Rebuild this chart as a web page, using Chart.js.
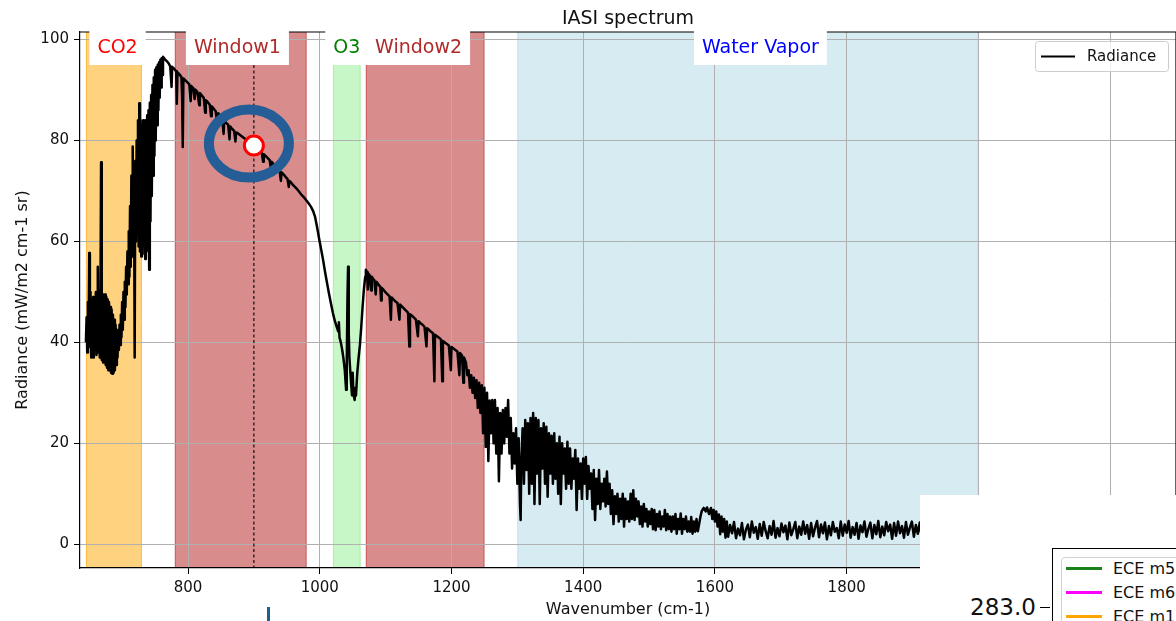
<!DOCTYPE html>
<html>
<head>
<meta charset="utf-8">
<script src="https://cdn.jsdelivr.net/npm/chart.js@4.4.1/dist/chart.umd.min.js"></script>
<style>
  html, body { margin: 0; padding: 0; background: #fff; overflow: hidden; }
  #wrap { position: relative; width: 1176px; height: 621px; font-family: 'DejaVu Sans', sans-serif; }
  #other { position: absolute; left: 920px; top: 495px; width: 256px; height: 126px; background: #fff; overflow: hidden; }
  #other .frame { position: absolute; left: 132px; top: 53px; width: 200px; height: 100px; border-left: 1.2px solid #000; border-top: 1.2px solid #000; }
  #other .inner { position: absolute; left: 141px; top: 62px; width: 150px; height: 100px; border: 1px solid #d0d0d0; border-radius: 4px; }
  #other .swatch { position: absolute; left: 146px; width: 36px; height: 3px; }
  #other .lbl { position: absolute; left: 193px; font-size: 16px; line-height: 18px; color: #111; white-space: nowrap; }
  #other .tick { position: absolute; left: 50px; top: 98px; font-size: 23px; line-height: 28px; color: #111; }
  #other .tickmark { position: absolute; left: 120px; top: 112px; width: 10px; height: 1.3px; background: #000; }
  #blueTick { position: absolute; left: 267px; top: 607px; width: 3px; height: 14px; background: #1f5f8b; }
</style>
</head>
<body>
<div id="wrap">
  <canvas id="iasi" width="1176" height="621"></canvas>
  <div id="other">
    <div class="frame"></div>
    <div class="inner"></div>
    <div class="swatch" style="top:72px;background:#1a801a"></div>
    <div class="lbl" style="top:65px">ECE m5</div>
    <div class="swatch" style="top:96px;background:#ff00ff"></div>
    <div class="lbl" style="top:89px">ECE m6</div>
    <div class="swatch" style="top:120px;background:#ffa500"></div>
    <div class="lbl" style="top:113px">ECE m1</div>
    <div class="tick">283.0</div>
    <div class="tickmark"></div>
  </div>
  <div id="blueTick"></div>
</div>
<script>
// IASI radiance spectrum: [wavenumber cm-1, radiance]
const spectrumCO2 = [
  [645,40],[646,45],[647,38],[648,48],[649,39],[650,57.7],[651,40],[652,50],[653,37],[654,48],
  [655,38.5],[656,49],[657,37],[658,47],[659,39],[660,50],[661,37.5],[662,46],[663,55],[664,38],
  [665,49],[666,37],[667,47],[668,75.7],[669,36.5],[670,49],[671,36],[672,49.5],[673,36],[674,49.5],
  [675,35.5],[676,49],[677,35],[678,48.5],[679,34.5],[680,48],[681,34.5],[682,47],[683,34],[684,46.5],
  [685,33.8],[686,45.5],[687,34],[688,44.5],[689,34.5],[690,43.5],[691,35.5],[692,42.5],[693,37],[694,42],
  [695,38.5],[696,43.5],[697,39.5],[698,45.5],[699,41],[700,48],[701,42.5],[702,50],[703,44.5],[704,52],
  [705,47],[706,55],[707,49.5],[708,58],[709,51.5],[710,62],[711,53],[712,67],[713,55],[714,73],
  [715,57],[716,78.8],[717,58],[718,72],[719,37],[720,76],[721,60],[722,80],[723,62],[724,84],
  [725,59],[726,87.4],[727,58],[728,84],[729,57],[730,83],[731,57.5],[732,84],[733,59],[734,83],
  [735,56.5],[736,84],[737,58],[738,85],[739,59],[740,86],[741,54.4],[742,87.5],[743,64],[744,89],
  [745,69],[746,91],[747,73],[748,92.5],[749,77],[750,94],[751,80],[752,94.5],[753,83],[754,95],
  [755,86],[756,95.5],[757,88.5],[758,96],[759,90.5],[760,96.3],[761,93],[762,96.6]
];
const spectrumWindow1 = [
  [765,96.1],[768,95.7],[771,95.2],[773,94.7],[775,90.6],[776,94.6],[779,94.2],[782,93.7],[783,87.3],[784,93.5],
  [787,93.1],[790,92.6],[791,89],[792,78.7],[793,92.3],[796,91.9],[799,91.5],[802,91.1],[804,87.8],[805,90.8],
  [808,90.4],[810,88.2],[811,90.1],[814,89.7],[817,87],[818,89.4],[821,88.9],[824,88.4],[826,85.5],[827,88],
  [830,87.6],[833,87.1],[835,84.8],[836,86.8],[839,86.3],[842,85.8],[845,82.8],[846,85.4],[849,84.8],[852,84.3],
  [854,81.3],[855,84],[858,83.5],[861,83.1],[863,80.2],[864,82.8],[867,82.3],[870,81.9],[872,79.8],[873,81.6],
  [876,81.4],[879,81.1],[882,80.8],[885,80.5],[888,80.2],[891,79.9],[894,79.5],[897,79.2],[900,79],[903,78.6],
  [906,78.3],[909,77.9],[912,77.6],[914,75.8],[915,77.3],[918,76.9],[921,76.5],[924,76.1],[926,74.3],[927,75.8],
  [930,75.3],[933,74.9],[936,74.5],[939,74.1],[941,72],[942,73.7],[945,73.3],[948,72.8],[951,72.4],[953,70.8],
  [954,72],[957,71.6],[960,71.1],[963,70.7],[966,70.3],[969,69.8],[972,69.3],[975,68.9],[978,68.4],[981,67.9],
  [984,67.4],[987,66.8],[990,66],[993,64.8],[996,62.8],[999,60.6]
];
const spectrumO3 = [
  [1002,58.5],[1005,56.4],[1008,54],[1011,51.8],[1014,49.7],[1017,47.7],[1020,45.8],[1023,44.2],[1026,43],[1028,42.2],
  [1029,44],[1030,41],[1032,40],[1034,38.6],[1036,36.8],[1038,34.5],[1040,30.6],[1041,36],[1042,48],[1043,55],
  [1044,42],[1045,37],[1047,33],[1049,29.5],[1050,34],[1051,30],[1053,28.6],[1054,31],[1055,29.5],[1057,34],
  [1059,37],[1061,39.5],[1063,43],[1065,47],[1067,50.5],[1069,53],[1070,54.4]
];
const spectrumWindow2 = [
  [1072,53.9],[1073,50.5],[1074,53.6],[1076,53.3],[1078,50.3],[1079,53],[1081,52.6],[1083,52.3],[1085,49.5],[1086,52],
  [1088,51.7],[1090,51.3],[1092,51],[1093,48.3],[1094,50.8],[1097,50.4],[1100,49.9],[1103,49.5],[1106,49.1],[1108,44.5],
  [1109,48.9],[1112,48.5],[1115,48.1],[1118,47.8],[1121,44.5],[1122,47.5],[1125,47.1],[1128,46.7],[1131,46.3],[1134,45.9],
  [1136,39.2],[1137,45.6],[1140,45.3],[1143,44.9],[1146,44.5],[1149,41.2],[1150,44.2],[1153,43.8],[1156,43.5],[1159,43.1],
  [1162,39.2],[1163,42.8],[1166,42.5],[1169,42.1],[1172,41.8],[1174,32.3],[1175,41.5],[1178,41.2],[1181,40.9],[1184,40.6],
  [1186,32.3],[1187,40.3],[1190,40],[1193,39.7],[1196,39.4],[1199,34.5],[1200,39.1],[1203,38.8],[1206,38.5],[1209,38.2],
  [1212,33.5],[1213,37.9],[1216,37.4],[1218,32],[1219,37],[1222,36],[1224,33.5]
];
const spectrumWaterVapor = [
  [1226,34.5],[1228,31],[1230,33.5],[1232,30],[1234,33],[1236,29],[1238,32.5],[1240,27],[1242,32],[1244,26],
  [1246,31.5],[1248,22],[1250,31],[1252,19.3],[1254,30],[1256,16.5],[1258,28.5],[1260,22],[1262,28.6],[1264,20],
  [1266,28.6],[1268,18],[1270,27],[1272,12.5],[1274,26],[1276,18],[1278,26.6],[1280,20],[1282,27],[1284,21.3],
  [1286,28.6],[1288,18],[1290,25],[1292,15],[1294,22],[1296,16],[1298,23],[1300,12],[1302,21],[1304,8],
  [1305,4.8],[1306,16],[1308,23],[1310,12],[1312,24.6],[1314,14.7],[1316,24],[1318,10],[1320,25],[1322,12],
  [1324,26],[1326,8],[1328,25],[1330,14],[1332,24.6],[1334,8],[1336,23],[1338,15],[1340,24],[1342,12],
  [1344,23.3],[1346,9.4],[1348,22],[1350,14],[1352,21.5],[1354,12],[1356,22],[1358,13],[1360,20],[1362,10],
  [1364,21.3],[1366,8],[1368,20],[1370,14],[1372,19],[1374,11],[1376,20.3],[1378,12],[1380,19],[1382,11],
  [1384,17],[1386,13],[1388,18.7],[1390,6.8],[1392,17],[1394,11],[1396,16],[1398,9],[1400,17],[1402,12],
  [1404,17.3],[1406,9],[1408,15.5],[1410,11],[1412,14],[1414,7],[1416,14.7],[1418,4.8],[1420,13],[1422,8],
  [1424,14.7],[1426,7],[1428,12],[1430,8.5],[1432,13],[1434,7.5],[1436,14.4],[1438,8],[1440,12],[1442,6],
  [1444,10.7],[1446,4],[1448,9.5],[1450,6],[1452,10],[1454,4.5],[1456,9],[1458,5],[1460,10],[1462,3.5],
  [1464,9],[1466,5],[1468,8.5],[1470,4.5],[1472,10],[1474,5],[1476,10.7],[1478,4.8],[1480,9],[1482,5.5],
  [1484,8.5],[1486,4],[1488,7.5],[1490,3.5],[1492,8],[1494,4.5],[1496,7],[1498,3.5],[1500,6.5],[1502,4],
  [1504,7],[1506,3],[1508,6.8],[1510,2.8],[1512,6],[1514,3.5],[1516,6.5],[1518,3],[1520,5.5],[1522,3.5],
  [1524,6.8],[1526,2.8],[1528,6],[1530,3],[1532,5.5],[1534,2.5],[1536,5.5],[1538,3],[1540,6],[1542,2.1],
  [1544,5],[1546,3],[1548,6.1],[1550,2.1],[1552,5],[1554,3],[1556,5.5],[1558,2.5],[1560,4.5],[1562,2.5],
  [1564,5.4],[1566,2.1],[1568,4.5],[1570,2.5],[1572,5],[1574,2.6],[1576,4],[1578,5.5],[1580,6.6],[1583,7.2],
  [1586,6.5],[1588,7.3],[1591,6],[1594,7.2],[1596,5],[1598,6.8],[1600,4.5],[1602,6.5],[1604,3.5],[1606,5.9],
  [1608,2],[1610,5.5],[1612,2.5],[1614,5],[1616,1.3],[1618,4.5],[1620,1.5],[1623,3.8],[1626,2.2],[1629,4.4],
  [1632,1.2],[1635,3.1],[1638,1.8],[1641,4.2],[1644,1],[1647,2.9],[1650,3.9],[1653,1.4],[1656,4.5],[1659,2.3],
  [1662,3.4],[1665,1.1],[1668,4],[1671,1.7],[1674,4.4],[1677,2.6],[1680,1.2],[1683,3.6],[1686,1.9],[1689,4.6],
  [1692,1.3],[1695,3.2],[1698,1.6],[1701,4.1],[1704,2.4],[1707,3.7],[1710,1],[1713,4.3],[1716,1.8],[1719,3],
  [1722,4.4],[1725,1.2],[1728,3.5],[1731,1.9],[1734,4.5],[1737,2.1],[1740,3.8],[1743,1.1],[1746,4.2],[1749,1.6],
  [1752,3.3],[1755,4.6],[1758,1.4],[1761,3.9],[1764,2.2],[1767,4.3],[1770,1],[1773,3.6],[1776,1.8],[1779,4.4],
  [1782,2.5],[1785,3.2],[1788,1.2],[1791,4.5],[1794,1.7],[1797,3.9],[1800,2.3],[1803,4.6],[1806,1.3],[1809,3.4],
  [1812,1.9],[1815,4.2],[1818,1.1],[1821,3.7],[1824,2.4],[1827,4.5],[1830,1.5],[1833,3.1],[1836,4.3],[1839,1.2],
  [1842,3.8],[1845,2],[1848,4.6],[1851,1.4],[1854,3.5],[1857,1.8],[1860,4.4],[1863,2.6],[1866,3.9],[1869,1.1],
  [1872,4.2],[1875,1.7],[1878,4.5],[1881,2.2],[1884,3.6],[1887,1.3],[1890,4.4],[1893,1.9],[1896,3.3],[1899,4.5],
  [1902,1.5],[1905,3.8],[1908,2.1],[1911,4.3],[1914,1.4],[1917,3.6],[1920,2]
];
const spectrumTail = [
  [1940,1.5],[1960,3.5],[1980,1.5],[2000,3],[2050,1.5],[2100,2.5],[2150,1.2],[2200,2],[2250,1],[2300,1.5]
];

// absorption bands (cm-1)
const bandNames = ['CO2', 'Window1', 'O3', 'Window2', 'Water Vapor'];
const bandStart = [645, 780, 1020, 1070, 1300];
const bandEnd = [730, 980, 1062, 1250, 2000];
const bandLabelAt = [693, 875, 1041, 1150, 1669];

const xTicks = [800, 1000, 1200, 1400, 1600, 1800, 2000, 2200];
const yTicks = [0, 20, 40, 60, 80, 100];
const markerWn = 900;

// styles
const bandFill = ['rgba(255,165,0,0.5)', 'rgba(190,64,64,0.6)', 'rgba(144,238,144,0.5)', 'rgba(190,64,64,0.6)', 'rgba(173,216,230,0.5)'];
const bandText = ['#ff0000', '#b02a2a', '#008000', '#b02a2a', '#0000ff'];
const FONT = "'DejaVu Sans', sans-serif";

const spectrum = [].concat(spectrumCO2, spectrumWindow1, spectrumO3, spectrumWindow2, spectrumWaterVapor, spectrumTail)
  .map(p => ({x: p[0], y: p[1]}));
const markerPoint = spectrum.find(p => p.x === markerWn);

const iasiPlugin = {
  id: 'iasi',
  beforeDraw(chart) {
    const {ctx, chartArea: a, scales: {x}} = chart;
    ctx.save();
    ctx.beginPath();
    ctx.rect(a.left, a.top, a.width, a.height);
    ctx.clip();
    bandNames.forEach((n, i) => {
      const x0 = x.getPixelForValue(bandStart[i]);
      const x1 = x.getPixelForValue(bandEnd[i]);
      ctx.fillStyle = bandFill[i];
      ctx.fillRect(x0, a.top, x1 - x0, a.height);
      ctx.strokeStyle = bandFill[i];
      ctx.lineWidth = 1;
      ctx.beginPath();
      ctx.moveTo(x0 + 0.5, a.top); ctx.lineTo(x0 + 0.5, a.bottom);
      ctx.moveTo(x1 - 0.5, a.top); ctx.lineTo(x1 - 0.5, a.bottom);
      ctx.stroke();
    });
    ctx.restore();
  },
  beforeDatasetsDraw(chart) {
    const {ctx, chartArea: a, scales: {x}} = chart;
    const px = x.getPixelForValue(markerWn);
    ctx.save();
    ctx.strokeStyle = '#000';
    ctx.lineWidth = 1.1;
    ctx.setLineDash([3, 2.5]);
    ctx.beginPath();
    ctx.moveTo(px, a.top);
    ctx.lineTo(px, a.bottom);
    ctx.stroke();
    ctx.restore();
  },
  afterDatasetsDraw(chart) {
    // hand drawn ring around the marked point
    const {ctx, scales: {x, y}} = chart;
    const cx = x.getPixelForValue(markerPoint.x) - 5;
    const cy = y.getPixelForValue(markerPoint.y) - 2;
    ctx.save();
    ctx.strokeStyle = '#255e96';
    ctx.lineWidth = 10;
    ctx.beginPath();
    ctx.ellipse(cx, cy, 40, 34, 0, 0, Math.PI * 2);
    ctx.stroke();
    ctx.restore();
  },
  afterDraw(chart) {
    const {ctx, chartArea: a, scales: {x}} = chart;
    ctx.save();
    // top and right spines
    ctx.strokeStyle = '#000';
    ctx.lineWidth = 1.2;
    ctx.beginPath();
    ctx.moveTo(a.left, a.top); ctx.lineTo(a.right, a.top);
    ctx.moveTo(a.right, a.top); ctx.lineTo(a.right, a.bottom);
    ctx.stroke();

    // band labels with white boxes
    ctx.font = '19px ' + FONT;
    ctx.textAlign = 'center';
    ctx.textBaseline = 'alphabetic';
    bandNames.forEach((n, i) => {
      const cx = x.getPixelForValue(bandLabelAt[i]);
      const w = ctx.measureText(n).width;
      ctx.fillStyle = '#fff';
      ctx.fillRect(cx - w / 2 - 8, a.top - 2, w + 16, 35);
      ctx.fillStyle = bandText[i];
      ctx.fillText(n, cx, a.top + 21);
    });

    // legend
    const lx = a.right - 141, ly = a.top + 9;
    ctx.fillStyle = 'rgba(255,255,255,0.8)';
    ctx.strokeStyle = '#cccccc';
    ctx.lineWidth = 1;
    ctx.beginPath();
    ctx.roundRect(lx + 0.5, ly + 0.5, 133, 30, 3);
    ctx.fill();
    ctx.stroke();
    ctx.strokeStyle = '#000';
    ctx.lineWidth = 2.2;
    ctx.beginPath();
    ctx.moveTo(lx + 6, ly + 15.5); ctx.lineTo(lx + 40, ly + 15.5);
    ctx.stroke();
    ctx.fillStyle = '#111';
    ctx.font = '15px ' + FONT;
    ctx.textAlign = 'left';
    ctx.textBaseline = 'middle';
    ctx.fillText('Radiance', lx + 52, ly + 16);

    // title and axis titles
    const mid = (a.left + a.right) / 2;
    ctx.textAlign = 'center';
    ctx.textBaseline = 'alphabetic';
    ctx.font = '19px ' + FONT;
    ctx.fillText('IASI spectrum', mid, 24);
    ctx.font = '16px ' + FONT;
    ctx.fillText('Wavenumber (cm-1)', mid, 614);
    ctx.translate(27, (a.top + a.bottom) / 2);
    ctx.rotate(-Math.PI / 2);
    ctx.fillText('Radiance (mW/m2 cm-1 sr)', 0, 0);
    ctx.restore();
  }
};

new Chart(document.getElementById('iasi'), {
  type: 'scatter',
  data: {
    datasets: [
      {
        label: 'marker',
        data: [markerPoint],
        pointRadius: 9.5,
        pointBackgroundColor: '#fff',
        pointBorderColor: '#ff0000',
        pointBorderWidth: 3,
        order: 0
      },
      {
        label: 'Radiance',
        data: spectrum,
        showLine: true,
        borderColor: '#000',
        borderWidth: 2.5,
        borderJoinStyle: 'round',
        pointRadius: 0,
        tension: 0,
        order: 1
      }
    ]
  },
  options: {
    responsive: false,
    animation: false,
    devicePixelRatio: 1,
    events: [],
    layout: { autoPadding: false, padding: { top: 32, right: 0, left: 0, bottom: 0 } },
    plugins: { legend: { display: false }, tooltip: { enabled: false }, title: { display: false } },
    scales: {
      x: {
        type: 'linear',
        min: 636,
        max: 2300,
        afterBuildTicks: s => { s.ticks = xTicks.map(v => ({value: v})); },
        afterFit: s => { s.height = 53; s.paddingLeft = 0; s.paddingRight = 0; },
        grid: { color: '#b0b0b0', lineWidth: 1, tickColor: '#000', tickLength: 6 },
        border: { color: '#000', width: 1.2 },
        ticks: {
          autoSkip: false, maxRotation: 0, padding: 5, color: '#111',
          font: { family: FONT, size: 15 },
          callback: v => String(v)
        }
      },
      y: {
        min: -4.7,
        max: 101.5,
        afterBuildTicks: s => { s.ticks = yTicks.map(v => ({value: v})); },
        afterFit: s => { s.width = 80; s.paddingTop = 0; s.paddingBottom = 0; },
        grid: { color: '#b0b0b0', lineWidth: 1, tickColor: '#000', tickLength: 6 },
        border: { color: '#000', width: 1.2 },
        ticks: { padding: 5, color: '#111', font: { family: FONT, size: 15 }, callback: v => String(v) }
      }
    }
  },
  plugins: [iasiPlugin]
});
</script>
</body>
</html>
